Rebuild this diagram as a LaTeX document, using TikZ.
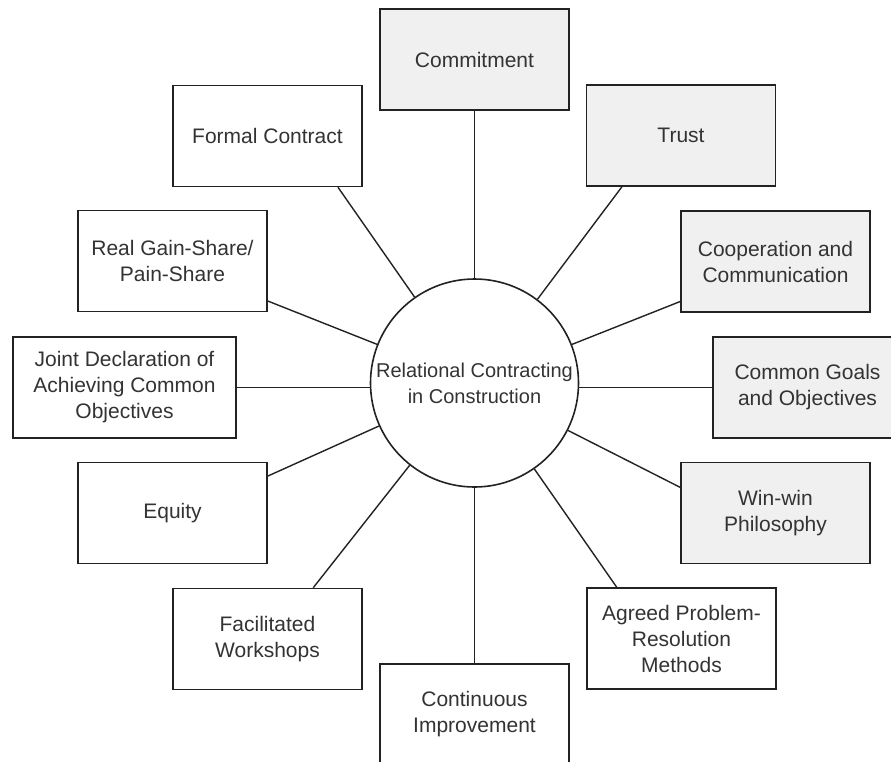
\documentclass[tikz,border=0pt]{standalone}
\usepackage{fontspec}
\setmainfont{Liberation Sans}
\usetikzlibrary{calc}
\definecolor{boxgray}{RGB}{240,240,240}
\definecolor{txt}{RGB}{51,51,51}
\definecolor{edge}{RGB}{34,34,34}
\begin{document}
\begin{tikzpicture}[x=1pt,y=-1pt,
  rcbox/.style={draw=edge, line width=1.6pt, minimum width=189pt, minimum height=101pt,
    inner sep=0pt, align=center, text=txt, font=\fontsize{21}{26}\selectfont},
  gbox/.style={rcbox, fill=boxgray},
  wbox/.style={rcbox, fill=white},
  link/.style={draw=edge, line width=1.4pt}]
\useasboundingbox (0,0) rectangle (891,761);
\node[circle, draw=edge, line width=1.6pt, minimum size=208pt, inner sep=0pt, align=center,
  text=txt, font=\fontsize{20}{26}\selectfont] (c) at (474.5,383) {Relational Contracting\\in Construction};
\node[gbox] (commit) at (474.5,59.5) {Commitment};
\node[gbox] (trust) at (681,135.5) {Trust};
\node[gbox] (coop) at (775.5,261.5) {Cooperation and\\Communication};
\node[gbox, minimum width=223pt] (common) at (824.5,387.5) {\hspace*{-34pt}Common Goals\\\hspace*{-34pt}and Objectives};
\node[gbox] (win) at (775.5,513) {Win-win\\Philosophy};
\node[wbox] (agreed) at (681.5,638.5) {Agreed Problem-\\Resolution\\Methods};
\node[wbox] (cont) at (474.5,714.5) {Continuous\\Improvement};
\node[wbox] (fac) at (267.5,639) {Facilitated\\Workshops};
\node[wbox] (eq) at (172.5,513) {Equity};
\node[wbox, minimum width=223pt] (joint) at (124.5,387.5) {Joint Declaration of\\Achieving Common\\Objectives};
\node[wbox] (real) at (172.5,261) {Real Gain-Share/\\Pain-Share};
\node[wbox] (formal) at (267.5,136) {Formal Contract};
\draw[link] (c) -- (commit);
\draw[link] (c) -- ($(trust.south west)!0.19!(trust.south east)$);
\draw[link] (c) -- ($(coop.south west)!0.11!(coop.north west)$);
\draw[link] (c.east |- common.west) -- (common.west);
\draw[link] (c) -- ($(win.north west)!0.25!(win.south west)$);
\draw[link] (c) -- ($(agreed.north west)!0.16!(agreed.north east)$);
\draw[link] (c) -- (cont);
\draw[link] (c) -- ($(fac.north west)!0.74!(fac.north east)$);
\draw[link] (c) -- ($(eq.north east)!0.14!(eq.south east)$);
\draw[link] (c.west |- joint.east) -- (joint.east);
\draw[link] (c) -- ($(real.south east)!0.11!(real.north east)$);
\draw[link] (c) -- ($(formal.south west)!0.87!(formal.south east)$);
\end{tikzpicture}
\end{document}
